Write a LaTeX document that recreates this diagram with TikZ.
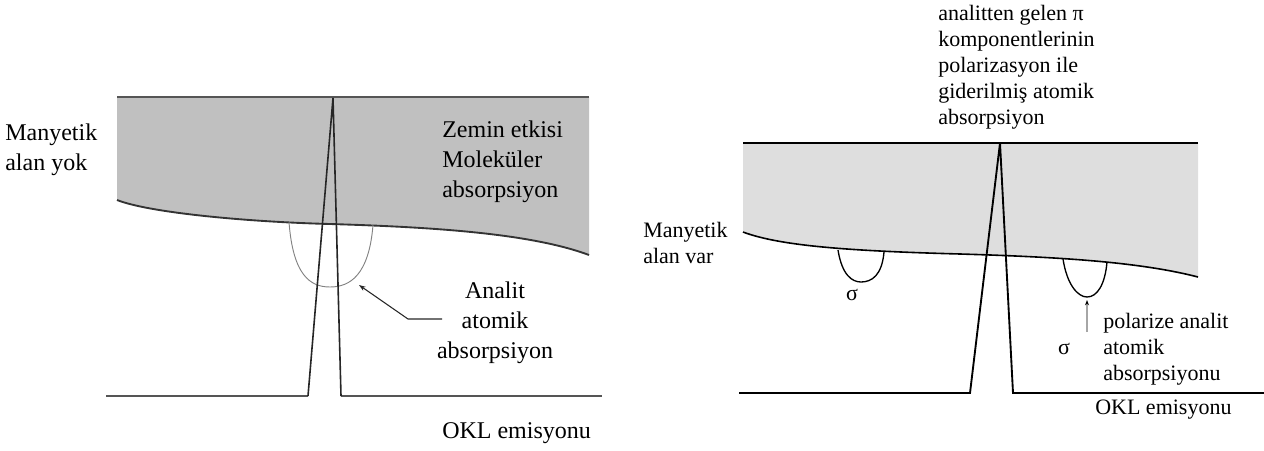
\documentclass[tikz,border=0pt]{standalone}
\usepackage{fontspec}
\setmainfont{Liberation Serif}
\usetikzlibrary{arrows.meta, positioning}
\definecolor{bgleft}{RGB}{192, 192, 192}
\definecolor{bgright}{RGB}{222, 222, 222}
\definecolor{rimleft}{RGB}{85, 85, 85}
\definecolor{cupgray}{RGB}{130, 130, 130}

\begin{document}
\begin{tikzpicture}[
    x=0.75pt, y=-0.75pt,
    lbl/.style={
        inner sep=0pt, anchor=west, align=left, text=black,
        font=\fontsize{18}{22.5}\selectfont
    },
    lblr/.style={
        inner sep=0pt, anchor=west, align=left, text=black,
        font=\fontsize{16.5}{19.5}\selectfont
    },
    trace/.style={line width=#1, line join=miter},
    ptr/.style={-{Stealth[length=5pt, width=3.5pt]}, line width=0.8pt, #1},
    >=Stealth
]
\useasboundingbox (0,0) rectangle (1264,450);

% Left panel: no magnetic field
\fill[bgleft] (117,97) -- (589,97) -- (589,255)
    .. controls (530,233) and (430,227) .. (330,224)
    .. controls (250,222) and (150,213) .. (117,200) -- cycle;
\draw[trace=2.2pt, rimleft] (117,97) -- (589,97);
\draw[trace=1.4pt, black!80] (117,200)
    .. controls (150,213) and (250,222) .. (330,224)
    .. controls (430,227) and (530,233) .. (589,255);

% analyte cup (left)
\draw[cupgray, line width=0.7pt] (289,222)
    .. controls (293,275) and (310,287) .. (330,287)
    .. controls (350,287) and (369,275) .. (373,225);

% emission line with peak (left)
\draw[trace=2.2pt, rimleft] (106,396) -- (308,396);
\draw[trace=2.2pt, rimleft] (341,396) -- (602,396);
\draw[trace=1.2pt, black!85] (308,396) -- (333,98) -- (341,396);

\node[lbl] (yok)   at (5,150)   {Manyetik\\alan yok};
\node[lbl] (zemin) at (442,162) {Zemin etkisi\\Moleküler\\absorpsiyon};
\node[lbl, anchor=center, align=center] (analit) at (495,323) {Analit\\atomik\\absorpsiyon};
\node[lbl] (oklL)  at (442,433) {OKL emisyonu};

\coordinate (aknee) at (408,319);
\coordinate (atail) at (442,319);
\coordinate (atip)  at (359,285);
\draw[ptr=black!85] (atail) -- (aknee) -- (atip);

% Right panel: magnetic field on
\fill[bgright] (743,143) -- (1198,143) -- (1198,277)
    .. controls (1140,262) and (1060,257) .. (960,254)
    .. controls (850,251) and (780,246) .. (743,232) -- cycle;
\draw[trace=1.6pt, black] (743,143) -- (1198,143);
\draw[trace=1.2pt, black] (743,232)
    .. controls (780,246) and (850,251) .. (960,254)
    .. controls (1060,257) and (1140,262) .. (1198,277);

% sigma cups (right)
\draw[black, line width=1pt] (838,250)
    .. controls (842,275) and (852,282) .. (861,282)
    .. controls (872,282) and (882,275) .. (884,252);
\draw[black, line width=1pt] (1063,259)
    .. controls (1067,285) and (1078,297) .. (1087,297)
    .. controls (1097,297) and (1105,285) .. (1107,262);

% emission line with peak (right)
\draw[trace=1.4pt, black] (739,393) -- (970,393) -- (1000,143) -- (1013,393) -- (1264,393);

\node[lblr] (var)   at (643,243)  {Manyetik\\alan var};
\node[lblr] (pi)    at (938,67)   {analitten gelen π\\komponentlerinin\\polarizasyon ile\\giderilmiş atomik\\absorpsiyon};
\node[lblr, anchor=center] (sig1) at (852,295) {σ};
\node[lblr, anchor=center] (sig2) at (1064,349) {σ};
\node[lblr] (polar) at (1103,349) {polarize analit\\atomik\\absorpsiyonu};
\node[lblr] (oklR)  at (1095,410) {OKL emisyonu};

\coordinate (ptail) at (1087,332);
\coordinate (ptip)  at (1087,300);
\draw[ptr=gray!70, -{Stealth[length=4pt, width=3pt, black]}] (ptail) -- (ptip);

\end{tikzpicture}
\end{document}
